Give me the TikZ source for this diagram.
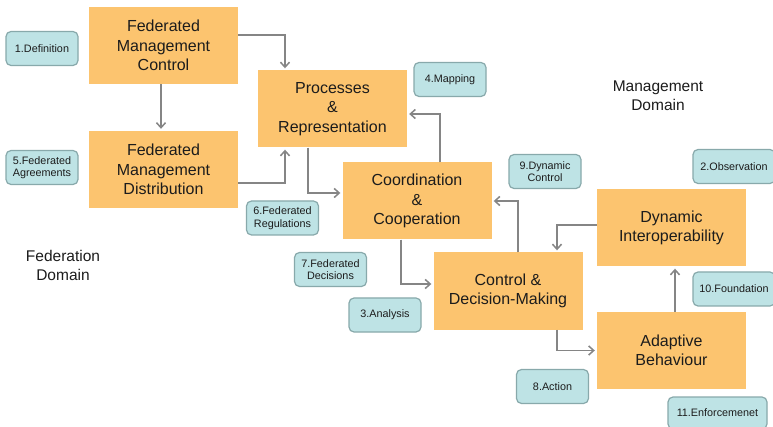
\documentclass[tikz,border=0pt]{standalone}
\usepackage{fontspec}
\setmainfont{Liberation Sans}
\usetikzlibrary{arrows.meta}
\definecolor{blockfill}{HTML}{FCC46F}
\definecolor{notefill}{HTML}{BEE3E5}
\definecolor{notedraw}{HTML}{88A9AB}
\definecolor{linkgray}{HTML}{858585}
\definecolor{textgray}{HTML}{1C1C1C}
\begin{document}
\begin{tikzpicture}[x=1pt,y=-1pt,
    block/.style={fill=blockfill,minimum width=149pt,minimum height=77pt,inner sep=0pt,align=center,text=textgray,font=\fontsize{16}{19.5}\selectfont},
    note/.style={fill=notefill,draw=notedraw,line width=1.2pt,rounded corners=5pt,minimum width=72pt,minimum height=34pt,inner sep=0pt,align=center,text=textgray,font=\fontsize{10.8}{12.5}\selectfont},
    domainlabel/.style={align=center,text=textgray,font=\fontsize{15.5}{19}\selectfont},
    link/.style={draw=linkgray,line width=1.5pt,shorten >=2pt,-{Straight Barb[length=5pt,width=9pt]}}]
            \useasboundingbox[fill=white] (0,0) rectangle (773,427);
            \node[block] (FMC) at (163.5,45.5) {Federated\\Management\\Control};
            \node[block] (FMD) at (163.5,169.5) {Federated\\Management\\Distribution};
            \node[block] (PR) at (332.5,109) {Processes\\\&\\Representation};
            \node[block] (CC) at (417,201) {Coordination\\\&\\Cooperation};
            \node[block] (CDM) at (508,291) {Control \&\\Decision-Making};
            \node[block] (DI) at (671.5,228) {Dynamic\\Interoperability};
            \node[block] (AB) at (671.5,350.5) {Adaptive\\Behaviour};

            \node[note] (def) at (42,48.5) {1.Definition};
            \node[note] (agr) at (42,167.5) {5.Federated\\Agreements};
            \node[note] (map) at (450,79.5) {4.Mapping};
            \node[note] (reg) at (282.5,218) {6.Federated\\Regulations};
            \node[note] (dec) at (330.5,269.5) {7.Federated\\Decisions};
            \node[note] (ana) at (385,315) {3.Analysis};
            \node[note] (dyn) at (545,171.5) {9.Dynamic\\Control};
            \node[note,minimum width=82pt] (obs) at (734,166.5) {2.Observation};
            \node[note,minimum width=82pt] (fou) at (734,289) {10.Foundation};
            \node[note] (act) at (552.5,386.5) {8.Action};
            \node[note,minimum width=99pt,minimum height=32pt] (enf) at (717.5,413) {11.Enforcemenet};

            \node[domainlabel] (MD) at (658,96) {Management\\Domain};
            \node[domainlabel] (FD) at (63,265) {Federation\\Domain};

            \draw[link] ([yshift=10.5pt]FMC.east) -| ([xshift=-47.5pt]PR.north); \draw[link] ([xshift=-2.5pt]FMC.south) -- ([xshift=-2.5pt]FMD.north);
            \draw[link] ([yshift=-13.5pt]FMD.east) -| ([xshift=-47.5pt]PR.south); \draw[link] ([xshift=-24.5pt]PR.south) |- ([yshift=8pt]CC.west);
            \draw[link] ([xshift=23pt]CC.north) |- ([yshift=-5pt]PR.east); \draw[link] ([xshift=-16pt]CC.south) |- ([yshift=7pt]CDM.west);
            \draw[link] ([xshift=10pt]CDM.north) |- (CC.east); \draw[link] ([yshift=3pt]DI.west) -| ([xshift=49pt]CDM.north);
            \draw[link] ([xshift=49pt]CDM.south) |- (AB.west); \draw[link] ([xshift=3.5pt]AB.north) -- ([xshift=3.5pt]DI.south);
        \end{tikzpicture}
\end{document}
